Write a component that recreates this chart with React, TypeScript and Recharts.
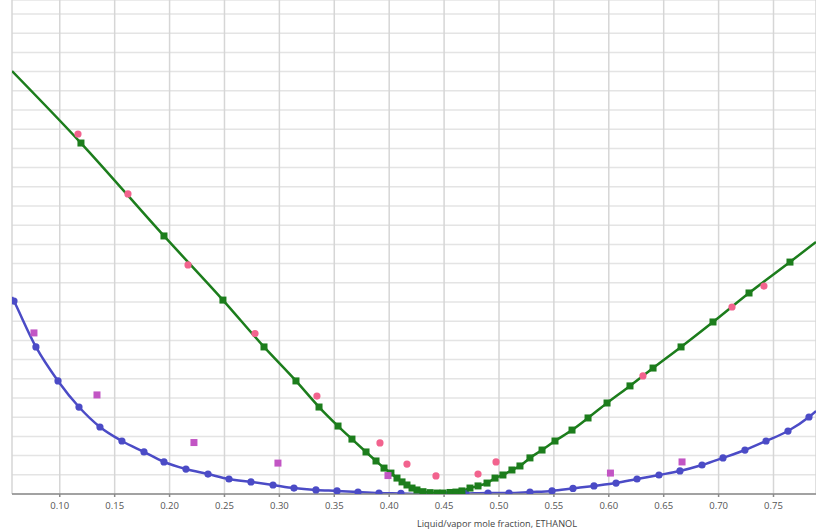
import React from "react";
import { ComposedChart, Line, Scatter, XAxis, YAxis, CartesianGrid, Label } from "recharts";

// Green calculated curve (square markers); entries with hidden dots mark the clipped ends
const greenX = [0.0565, 0.1193, 0.1949, 0.2486, 0.286, 0.3151, 0.3361, 0.3534, 0.3661, 0.3789, 0.388, 0.3953, 0.4016, 0.4071, 0.4117, 0.4162, 0.4208, 0.4253, 0.4308, 0.4372, 0.4435, 0.449, 0.4554, 0.4608, 0.4663, 0.4736, 0.4809, 0.4891, 0.4964, 0.5036, 0.5118, 0.5191, 0.5282, 0.5392, 0.551, 0.5665, 0.5811, 0.5984, 0.6193, 0.6403, 0.6658, 0.6949, 0.7277, 0.765, 0.7887];
const greenY = [22.03, 18.28, 13.44, 10.1, 7.66, 5.89, 4.53, 3.54, 2.86, 2.19, 1.72, 1.35, 1.09, 0.83, 0.63, 0.47, 0.31, 0.21, 0.12, 0.07, 0.05, 0.05, 0.08, 0.1, 0.16, 0.31, 0.42, 0.57, 0.83, 0.99, 1.25, 1.46, 1.88, 2.29, 2.76, 3.33, 3.96, 4.74, 5.63, 6.56, 7.66, 8.96, 10.47, 12.08, 13.13];
const greenHidden = [0, 44];

// Blue calculated curve (circle markers)
const blueX = [0.0565, 0.0583, 0.0783, 0.0984, 0.1175, 0.1366, 0.1566, 0.1767, 0.1949, 0.2149, 0.235, 0.2541, 0.2741, 0.2942, 0.3133, 0.3333, 0.3525, 0.3716, 0.3907, 0.4107, 0.4308, 0.4499, 0.4699, 0.49, 0.5091, 0.5282, 0.5483, 0.5674, 0.5865, 0.6066, 0.6257, 0.6457, 0.6648, 0.6849, 0.704, 0.724, 0.7432, 0.7632, 0.7823, 0.7887];
const blueY = [10.26, 10.05, 7.66, 5.89, 4.53, 3.49, 2.76, 2.19, 1.67, 1.3, 1.04, 0.78, 0.63, 0.47, 0.31, 0.21, 0.16, 0.1, 0.05, 0.03, 0.0, 0.0, 0.02, 0.05, 0.05, 0.1, 0.16, 0.29, 0.42, 0.57, 0.78, 0.99, 1.2, 1.51, 1.88, 2.29, 2.76, 3.28, 4.01, 4.32];
const blueHidden = [0, 39];

// Pink experimental points (circles)
const pinkX = [0.1166, 0.1621, 0.2168, 0.2778, 0.3342, 0.3916, 0.4162, 0.4426, 0.4809, 0.4973, 0.6311, 0.7122, 0.7413];
const pinkY = [18.75, 15.63, 11.93, 8.36, 5.1, 2.66, 1.56, 0.94, 1.04, 1.67, 6.15, 9.74, 10.83];

// Magenta experimental points (squares)
const magX = [0.0765, 0.1339, 0.2222, 0.2987, 0.3989, 0.6015, 0.6667];
const magY = [8.39, 5.16, 2.68, 1.61, 0.96, 1.09, 1.67];

const xTicks = [0.1, 0.15, 0.2, 0.25, 0.3, 0.35, 0.4, 0.45, 0.5, 0.55, 0.6, 0.65, 0.7, 0.75];
const yTicks = [0, 1, 2, 3, 4, 5, 6, 7, 8, 9, 10, 11, 12, 13, 14, 15, 16, 17, 18, 19, 20, 21, 22, 23, 24, 25];
const xLabel = "Liquid/vapor mole fraction, ETHANOL";

const green = greenX.map((x, i) => ({ x, y: greenY[i], nd: greenHidden.includes(i) }));
const blue = blueX.map((x, i) => ({ x, y: blueY[i], nd: blueHidden.includes(i) }));
const pink = pinkX.map((x, i) => ({ x, y: pinkY[i] }));
const mag = magX.map((x, i) => ({ x, y: magY[i] }));

const GREEN = "#1c7d1c";
const BLUE = "#4b4bc6";
const PINK = "#f2638e";
const MAG = "#c255c4";

const squareDot = (color: string) => (props: any) => {
  const { cx, cy, payload, index } = props;
  if (payload?.nd || cx == null) return <g key={"g" + index} />;
  return <rect key={"s" + index} x={cx - 3.5} y={cy - 3.5} width={7} height={7} fill={color} />;
};
const circleDot = (color: string) => (props: any) => {
  const { cx, cy, payload, index } = props;
  if (payload?.nd || cx == null) return <g key={"c" + index} />;
  return <circle key={"c" + index} cx={cx} cy={cy} r={3.6} fill={color} />;
};

export default function App() {
  return (
    <div style={{ position: "absolute", left: 0, top: 0, background: "#fff" }}>
      <ComposedChart width={816} height={529} margin={{ top: 0, right: 0, bottom: 0, left: 12 }}>
        <CartesianGrid horizontal={true} vertical={false} stroke="#e4e4e4" strokeWidth={1.5} />
        <CartesianGrid horizontal={false} vertical={true} stroke="#d6d6d6" strokeWidth={1.5} />
        <XAxis
          dataKey="x"
          type="number"
          domain={[0.0565, 0.7887]}
          allowDataOverflow
          ticks={xTicks}
          interval={0}
          tickFormatter={(v: number) => v.toFixed(2)}
          height={35}
          stroke="#8a8a8a"
          strokeWidth={1.5}
          tickSize={3}
          tickMargin={5}
          tick={{ fill: "#555", fontSize: 9.5, fontFamily: "Open Sans, sans-serif" }}
        >
          <Label value={xLabel} position="insideBottom" offset={2} dx={83} style={{ fill: "#444", fontSize: 9.2, fontFamily: "Open Sans, sans-serif" }} />
        </XAxis>
        <YAxis hide type="number" dataKey="y" domain={[0, 25.73]} ticks={yTicks} interval={0} allowDataOverflow width={0} />
        <Line data={blue} dataKey="y" type="monotone" stroke={BLUE} strokeWidth={2.5} dot={circleDot(BLUE)} activeDot={false} isAnimationActive={false} />
        <Line data={green} dataKey="y" type="monotone" stroke={GREEN} strokeWidth={2.5} dot={squareDot(GREEN)} activeDot={false} isAnimationActive={false} />
        <Scatter data={pink} dataKey="y" fill={PINK} isAnimationActive={false} shape={(p: any) => <circle cx={p.cx} cy={p.cy} r={3.6} fill={PINK} />} />
        <Scatter data={mag} dataKey="y" fill={MAG} isAnimationActive={false} shape={(p: any) => <rect x={p.cx - 3.5} y={p.cy - 3.5} width={7} height={7} fill={MAG} />} />
      </ComposedChart>
    </div>
  );
}
